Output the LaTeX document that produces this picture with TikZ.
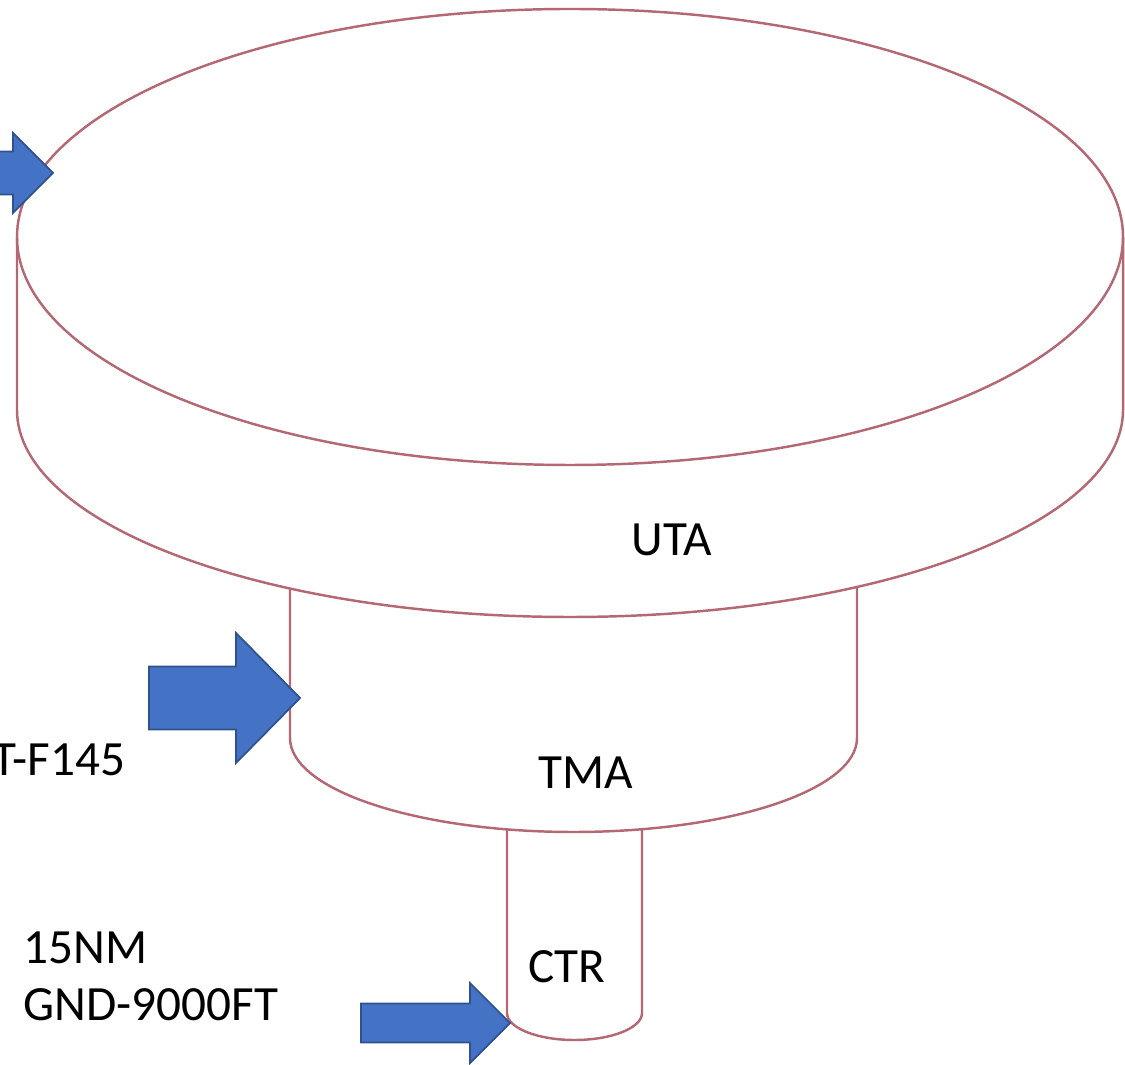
\documentclass[tikz,border=0pt]{standalone}
\usepackage{fontspec}
\setmainfont{Carlito}
\usepackage{tikz}

\definecolor{rimred}{RGB}{180,104,116}
\definecolor{arrowblue}{HTML}{4472C4}
\definecolor{arrowedge}{HTML}{2F528F}

\begin{document}
\begin{tikzpicture}[x=0.01cm, y=-0.01cm,
    rim/.style={draw=rimred, line width=0.7pt},
    blockarrow/.style={fill=arrowblue, draw=arrowedge, line width=0.5pt, line join=miter},
    lbl/.style={font=\fontsize{14}{17}\selectfont, inner sep=0pt}]
    \useasboundingbox (0,0) rectangle (1125,1065);
    \clip (0,0) rectangle (1125,1065);

    % UTA
    \draw[rim] (570,237) ellipse [x radius=553, y radius=228];
    \draw[rim] (17,237) -- (17,410)
        arc [start angle=180, end angle=0, x radius=553, y radius=207] -- (1123,237);

    % TMA
    \draw[rim] (290,588) -- (290,738)
        arc [start angle=180, end angle=0, x radius=283.5, y radius=94] -- (857,587);

    % CTR
    \draw[rim] (507,829) -- (507,1013)
        arc [start angle=180, end angle=0, x radius=67.5, y radius=27] -- (642,829);

    % tip x / tip y / head length / head half width / shaft half width / length
    \foreach \tx/\ty/\hl/\hw/\sw/\len in {53/173/40/40/21.5/120, 300/698/64/65/31.5/151, 510/1023/40/40/19.5/149} {
        \draw[blockarrow] (\tx,\ty) -- ++(-\hl,-\hw) -- ++(0,\hw-\sw) -- ++(\hl-\len,0)
            -- ++(0,2*\sw) -- ++(\len-\hl,0) -- ++(0,\hw-\sw) -- cycle;
    }

    \node[lbl, anchor=base] (uta) at (672,556) {UTA};
    \node[lbl, anchor=base] (tma) at (586,788) {TMA};
    \node[lbl, anchor=base] (ctr) at (567,982) {CTR};
    \node[lbl, anchor=base east] (fl) at (126,775) {T-F145};
    \node[lbl, anchor=base west] (rng) at (23,963) {15NM};
    \node[lbl, anchor=base west] (alt) at (23,1020) {GND-9000FT};
\end{tikzpicture}
\end{document}
